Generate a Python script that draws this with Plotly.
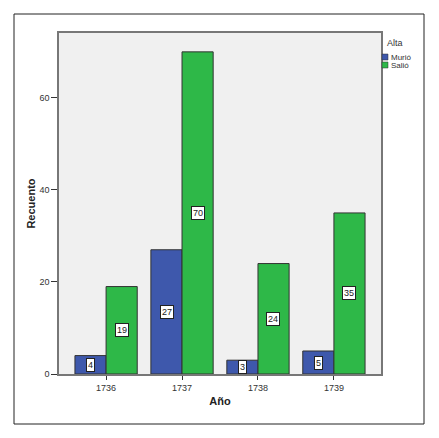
import plotly.graph_objects as go

years = ["1736", "1737", "1738", "1739"]
murio = [4, 27, 3, 5]
salio = [19, 70, 24, 35]
series_names = ["Murió", "Salió"]
legend_title = "Alta"
colors = ["#3E58AC", "#2EB848"]

FONT = "Arial, Liberation Sans, sans-serif"
OFF = 8  # default page body margin
W, H = 439 - OFF, 438 - OFF
L, T = 59 - OFF, 33 - OFF
PW, PH = 322, 341
R, B = W - L - PW, H - T - PH


def px_x(x):
    return (x - OFF - L) / PW


def px_y(y):
    return (OFF + T + PH - y) / PH


fig = go.Figure()
for name, vals, col in zip(series_names, [murio, salio], colors):
    fig.add_trace(go.Bar(x=list(range(len(years))), y=vals, name=name, showlegend=False,
                         marker=dict(color=col, line=dict(color="#333333", width=1))))

annotations = []
for vals, shift in [(murio, -15.5), (salio, 15.5)]:
    for i, v in enumerate(vals):
        annotations.append(dict(x=i, y=v / 2, xref="x", yref="y", text=str(v), showarrow=False,
                                xshift=shift, bgcolor="white", bordercolor="#222222", borderwidth=1,
                                borderpad=1, font=dict(size=9, color="#222222", family=FONT)))

# manual compact legend (as in the SPSS original)
shapes = [dict(type="rect", xref="paper", yref="paper", x0=px_x(14), x1=px_x(424), y0=px_y(424), y1=px_y(14),
               line=dict(color="#222222", width=1), fillcolor="rgba(0,0,0,0)", layer="below")]
annotations.append(dict(x=px_x(395), y=px_y(43), xref="paper", yref="paper", text=legend_title,
                        showarrow=False, xanchor="center", yanchor="middle",
                        font=dict(size=9, color="#333333", family=FONT)))
for k, (name, col) in enumerate(zip(series_names, colors)):
    top = 54 + k * 8
    shapes.append(dict(type="rect", xref="paper", yref="paper", x0=px_x(382), x1=px_x(388),
                       y0=px_y(top + 6), y1=px_y(top), fillcolor=col, line=dict(color="#333333", width=0.5)))
    annotations.append(dict(x=px_x(389), y=px_y(top + 3), xref="paper", yref="paper", text=name,
                            showarrow=False, xanchor="left", yanchor="middle",
                            font=dict(size=8, color="#333333", family=FONT)))

fig.update_layout(
    width=W, height=H,
    margin=dict(l=L, r=R, t=T, b=B, autoexpand=False),
    paper_bgcolor="white", plot_bgcolor="#F0F0F0",
    barmode="group", bargap=0.18, bargroupgap=0,
    font=dict(family=FONT, size=9, color="#333333"),
    showlegend=False,
    annotations=annotations,
    shapes=shapes,
)
fig.update_xaxes(type="linear", range=[-0.62, 3.62], tickvals=list(range(len(years))), ticktext=years,
                 showline=True, mirror=True, linecolor="#777777", linewidth=1.5, showgrid=False, zeroline=False,
                 ticks="outside", ticklen=4, tickcolor="#333333",
                 title=dict(text="<b>Año</b>", font=dict(size=11, color="#222222"), standoff=6))
fig.update_yaxes(range=[0, 74.1], showline=True, mirror=True, linecolor="#777777", linewidth=1.5,
                 showgrid=False, zeroline=False, ticks="outside", ticklen=6, tickcolor="#333333",
                 tickvals=[0, 20, 40, 60],
                 title=dict(text="<b>Recuento</b>", font=dict(size=11, color="#222222"), standoff=2))

fig.write_html("out.html")
